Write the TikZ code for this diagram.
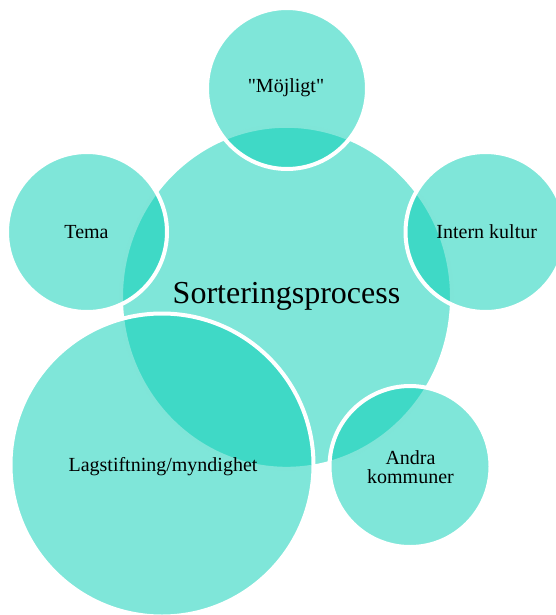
\documentclass[tikz,border=0pt]{standalone}
\usepackage{fontspec}
\setmainfont{Liberation Serif}
\newfontfamily\nqfont{Liberation Serif}[Ligatures=TeXOff]
\usetikzlibrary{shapes.geometric}
\definecolor{tealbase}{RGB}{0,205,179}
\begin{document}
\begin{tikzpicture}[x=1pt,y=-1pt,
  bubble/.style={ellipse, draw=white, line width=4pt, fill=tealbase,
    fill opacity=0.5, draw opacity=1, inner sep=0pt},
  lbl/.style={font=\fontsize{20}{19.5}\selectfont, text=black, align=center, inner sep=0pt},
  biglbl/.style={font=\fontsize{32}{36}\selectfont, text=black, inner sep=0pt}]
\useasboundingbox (0,0) rectangle (555,615);
\node[bubble, minimum width=331pt, minimum height=343pt] (core) at (286.5,297.3) {};
\node[bubble, minimum width=160pt, minimum height=161pt] (mojligt) at (287,88.5) {};
\node[bubble, minimum width=160pt, minimum height=160pt] (intern) at (485.5,232) {};
\node[bubble, minimum width=161pt, minimum height=161pt] (andra) at (410,466.5) {};
\node[bubble, minimum width=160pt, minimum height=160pt] (tema) at (87,232) {};
\node[bubble, minimum width=303pt, minimum height=303pt] (lag) at (162,465) {};
\node[biglbl] (tcore) at (286.5,296) {Sorteringsprocess};
\node[lbl] (tmojligt) at (286,88) {{\nqfont "}Möjligt{\nqfont "}};
\node[lbl] (tintern) at (486.7,232) {Intern kultur};
\node[lbl] (tandra) at (410.5,467) {Andra\\kommuner};
\node[lbl] (ttema) at (86.5,232) {Tema};
\node[lbl] (tlag) at (163,467) {Lagstiftning/myndighet};
\end{tikzpicture}
\end{document}
